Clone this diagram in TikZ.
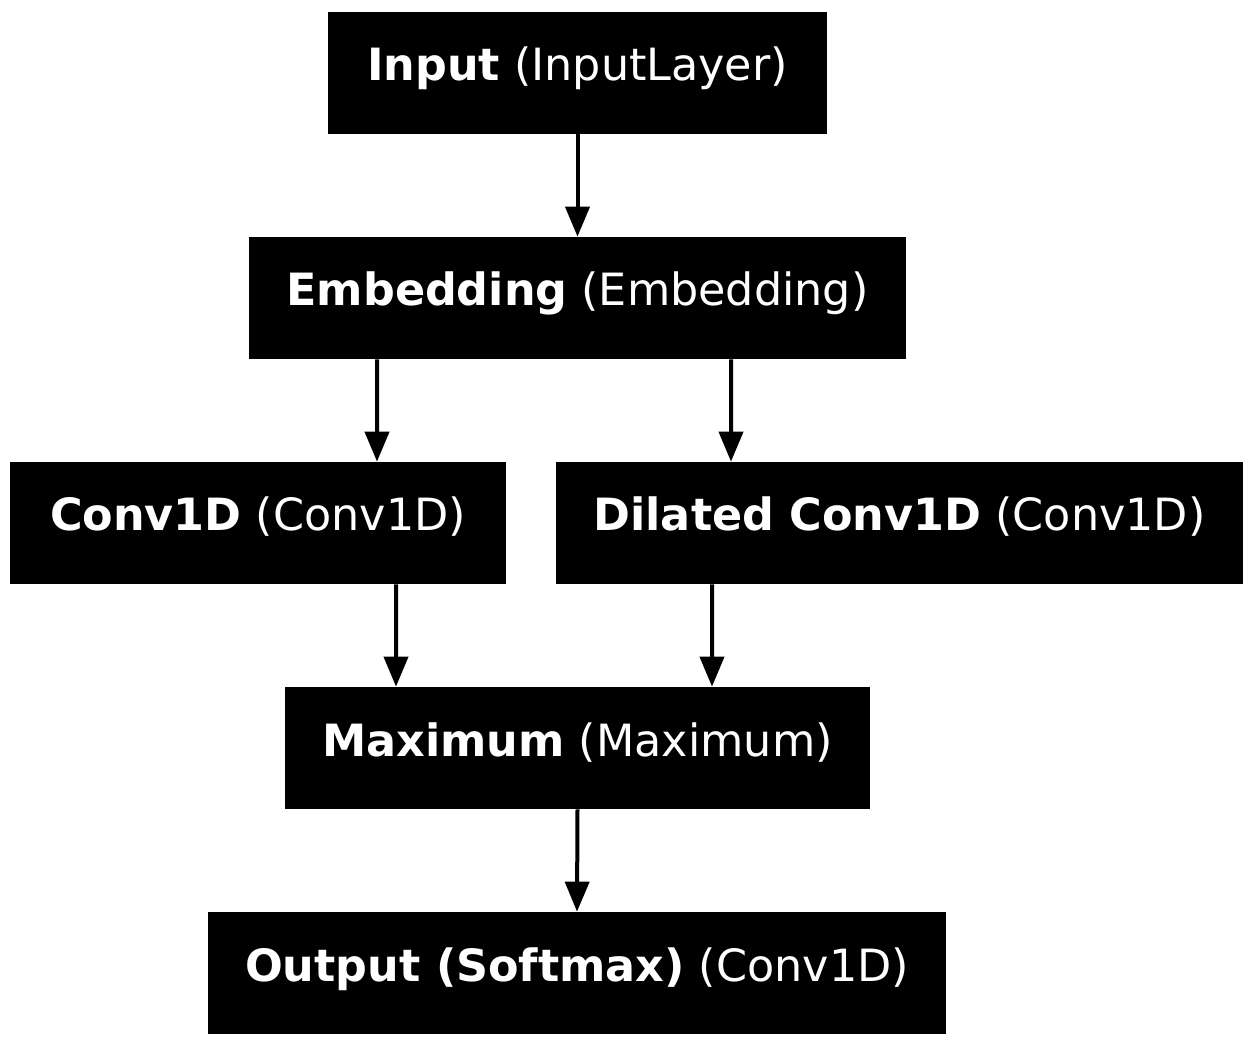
\documentclass[tikz,border=0pt]{standalone}
\usepackage{fontspec}
\setmainfont{DejaVu Sans}
\usetikzlibrary{arrows.meta}
\tikzset{
  layer/.style={fill=black, text=white, minimum height=2.44cm, inner sep=0pt,
    text height=0.62cm, text depth=0.3cm, font=\fontsize{25.3}{30}\selectfont},
  arr/.style={line width=0.08cm, -{Triangle[length=0.6cm,width=0.48cm]}}
}
\begin{document}
\begin{tikzpicture}
        \useasboundingbox (0,0) rectangle (25.08,-20.94);
        \node [layer, minimum width=9.98cm] (inp) at (11.55,-1.46) {\textbf{Input} (InputLayer)};
        \node [layer, minimum width=13.14cm] (emb) at (11.55,-5.96) {\textbf{Embedding} (Embedding)};
        \node [layer, minimum width=9.92cm] (conv) at (5.16,-10.46) {\textbf{Conv1D} (Conv1D)};
        \node [layer, minimum width=13.74cm] (dil) at (17.99,-10.46) {\textbf{Dilated Conv1D} (Conv1D)};
        \node [layer, minimum width=11.7cm] (maxi) at (11.55,-14.96) {\textbf{Maximum} (Maximum)};
        \node [layer, minimum width=14.76cm] (out) at (11.54,-19.46) {\textbf{Output (Softmax)} (Conv1D)};
        \draw[arr] (inp.south) -- (emb.north);
        \draw[arr] ([xshift=-4.01cm]emb.south) -- ([xshift=2.38cm]conv.north);
        \draw[arr] ([xshift=3.07cm]emb.south) -- ([xshift=-3.37cm]dil.north);
        \draw[arr] ([xshift=2.76cm]conv.south) -- ([xshift=-3.63cm]maxi.north);
        \draw[arr] ([xshift=-3.75cm]dil.south) -- ([xshift=2.69cm]maxi.north);
        \draw[arr] (maxi.south) -- (out.north);
    \end{tikzpicture}
\end{document}
